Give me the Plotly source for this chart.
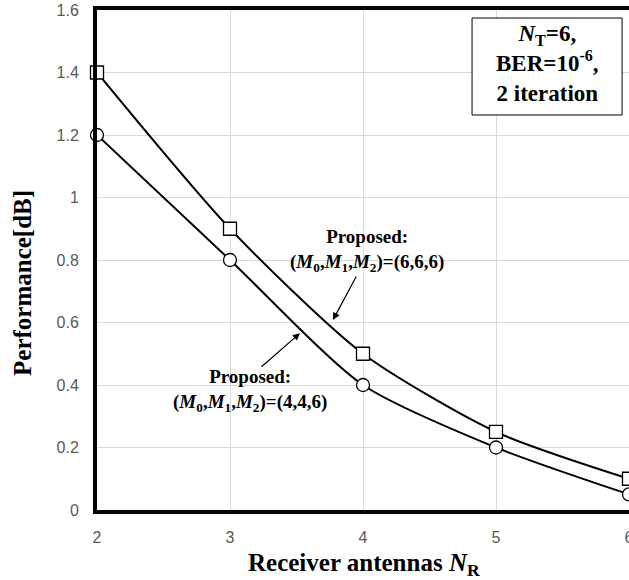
import plotly.graph_objects as go

x_vals = [2, 3, 4, 5, 6]
y_666 = [1.4, 0.9, 0.5, 0.25, 0.1]
y_446 = [1.2, 0.8, 0.4, 0.2, 0.05]
y_ticks = [0, 0.2, 0.4, 0.6, 0.8, 1.0, 1.2, 1.4, 1.6]
y_ticklabels = ["0", "0.2", "0.4", "0.6", "0.8", "1", "1.2", "1.4", "1.6"]

serif = "Liberation Serif, Times New Roman, serif"

fig = go.Figure()
fig.add_trace(go.Scatter(
    x=x_vals, y=y_666, mode="lines+markers", line=dict(color="black", width=2, shape="spline", smoothing=0.7),
    marker=dict(symbol="square", size=13, color="white", line=dict(color="black", width=1.3)),
    cliponaxis=False, showlegend=False))
fig.add_trace(go.Scatter(
    x=x_vals, y=y_446, mode="lines+markers", line=dict(color="black", width=2, shape="spline", smoothing=0.7),
    marker=dict(symbol="circle", size=13, color="white", line=dict(color="black", width=1.3)),
    cliponaxis=False, showlegend=False))

fig.update_layout(
    width=629, height=580,
    margin=dict(l=97, r=0, t=10, b=70),
    plot_bgcolor="white", paper_bgcolor="white",
    xaxis=dict(range=[2, 6], tickvals=x_vals, showgrid=True, gridcolor="#d9d9d9", gridwidth=1,
               showline=True, linecolor="black", linewidth=4, mirror=True, zeroline=False,
               ticks="outside", ticklen=10, tickcolor="rgba(0,0,0,0)", ticklabeloverflow="allow",
               automargin=False,
               tickfont=dict(family="Liberation Sans, Arial", size=16, color="#595959")),
    yaxis=dict(range=[0, 1.6], tickvals=y_ticks, ticktext=y_ticklabels, showgrid=True, gridcolor="#d9d9d9",
               gridwidth=1, showline=True, linecolor="black", linewidth=4, mirror=False, zeroline=False,
               ticks="outside", ticklen=11, tickcolor="rgba(0,0,0,0)", automargin=False,
               tickfont=dict(family="Liberation Sans, Arial", size=16, color="#595959")),
)

ann_font = dict(family=serif, size=19, color="black")
fig.add_annotation(x=4.03, y=0.829, xref="x", yref="y", showarrow=False, align="center",
                   xanchor="center", yanchor="middle",
                   text="<b>Proposed:<br>(<i>M</i><sub>0</sub>,<i>M</i><sub>1</sub>,<i>M</i><sub>2</sub>)=(6,6,6)</b>",
                   font=ann_font)
fig.add_annotation(x=3.15, y=0.381, xref="x", yref="y", showarrow=False, align="center",
                   xanchor="center", yanchor="middle",
                   text="<b>Proposed:<br>(<i>M</i><sub>0</sub>,<i>M</i><sub>1</sub>,<i>M</i><sub>2</sub>)=(4,4,6)</b>",
                   font=ann_font)
# arrows
fig.add_annotation(x=3.774, y=0.608, ax=3.955, ay=0.752, xref="x", yref="y", axref="x", ayref="y",
                   text="", showarrow=True, arrowhead=2, arrowsize=1.2, arrowwidth=1.2, arrowcolor="black")
fig.add_annotation(x=3.526, y=0.566, ax=3.226, ay=0.454, xref="x", yref="y", axref="x", ayref="y",
                   text="", showarrow=True, arrowhead=2, arrowsize=1.2, arrowwidth=1.2, arrowcolor="black")

# info box
fig.add_shape(type="rect", xref="paper", yref="paper", x0=0.705, x1=0.987, y0=0.79, y1=0.984,
              line=dict(color="black", width=1), fillcolor="white")
fig.add_annotation(x=0.846, y=0.892, xref="paper", yref="paper", showarrow=False, align="center",
                   xanchor="center", yanchor="middle",
                   text="<b><i>N</i><sub>T</sub>=6,<br>BER=10<sup>-6</sup>,<br>2 iteration</b>",
                   font=dict(family=serif, size=23, color="black"))

# axis titles
fig.add_annotation(x=0.501, y=-0.108, xref="paper", yref="paper", showarrow=False,
                   xanchor="center", yanchor="middle",
                   text="<b>Receiver antennas <i>N</i><sub>R</sub></b>",
                   font=dict(family=serif, size=25, color="black"))
fig.add_annotation(x=-0.141, y=0.454, xref="paper", yref="paper", showarrow=False, textangle=-90,
                   xanchor="center", yanchor="middle",
                   text="<b>Performance[dB]</b>",
                   font=dict(family=serif, size=25, color="black"))

fig.write_html("out.html")
